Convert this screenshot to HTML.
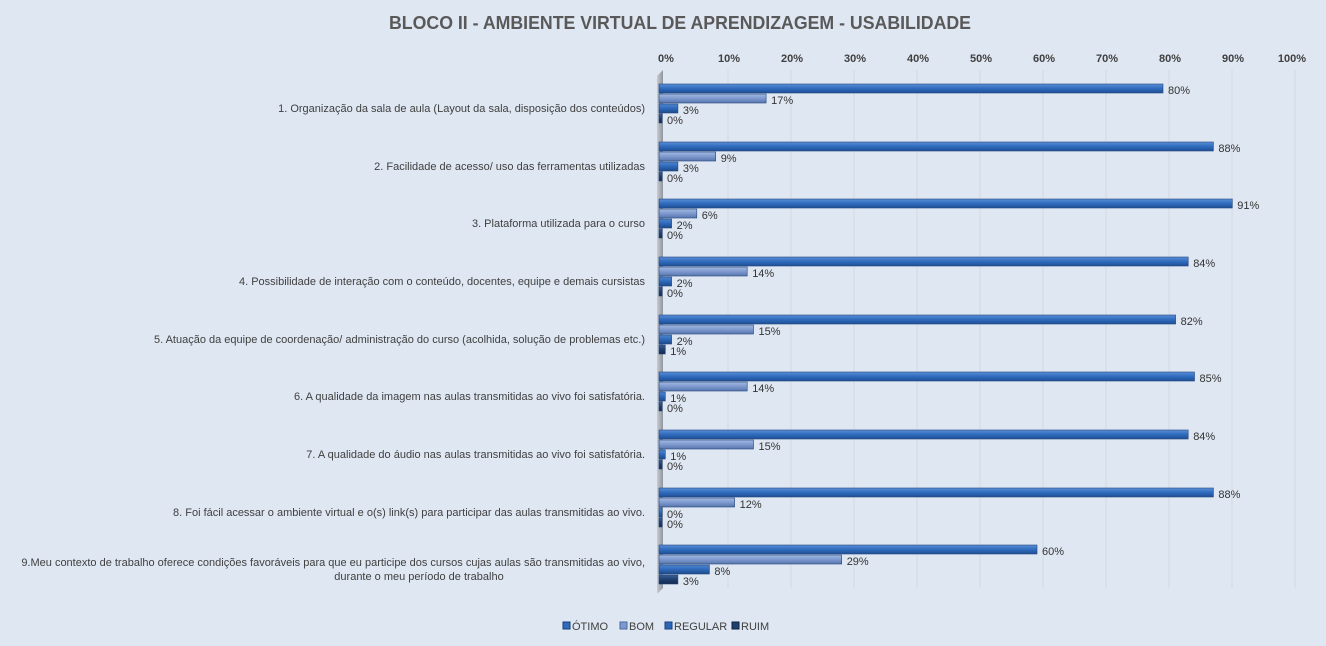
<!DOCTYPE html>
<html><head><meta charset="utf-8"><style>
body{margin:0;background:#dfe7f2;}
svg{display:block;font-family:"Liberation Sans",sans-serif;}
</style></head><body>
<svg width="1326" height="646" xmlns="http://www.w3.org/2000/svg">
<defs>
<linearGradient id="g1" x1="0" y1="0" x2="0" y2="1"><stop offset="0" stop-color="#5a8fd6"/><stop offset="0.5" stop-color="#2f6bbd"/><stop offset="1" stop-color="#1f4f95"/></linearGradient>
<linearGradient id="g2" x1="0" y1="0" x2="0" y2="1"><stop offset="0" stop-color="#a3b9e0"/><stop offset="0.5" stop-color="#7d99cf"/><stop offset="1" stop-color="#5876ad"/></linearGradient>
<linearGradient id="g3" x1="0" y1="0" x2="0" y2="1"><stop offset="0" stop-color="#4f86d0"/><stop offset="0.5" stop-color="#2d68b8"/><stop offset="1" stop-color="#1d4a8c"/></linearGradient>
<linearGradient id="g4" x1="0" y1="0" x2="0" y2="1"><stop offset="0" stop-color="#3a5f95"/><stop offset="0.5" stop-color="#1f3f6e"/><stop offset="1" stop-color="#122a4d"/></linearGradient>
<linearGradient id="wall" x1="0" y1="0" x2="1" y2="0"><stop offset="0" stop-color="#c8ccd2"/><stop offset="1" stop-color="#8f959c"/></linearGradient>
</defs>
<rect width="1326" height="646" fill="#dfe7f2"/>
<text x="680" y="29" text-anchor="middle" font-size="18" font-weight="bold" fill="#595959" textLength="582" lengthAdjust="spacingAndGlyphs">BLOCO II - AMBIENTE VIRTUAL DE APRENDIZAGEM - USABILIDADE</text>
<g font-size="11" fill="#404040" text-anchor="middle" font-weight="bold">
<text x="666" y="62">0%</text><text x="729" y="62">10%</text><text x="792" y="62">20%</text><text x="855" y="62">30%</text><text x="918" y="62">40%</text><text x="981" y="62">50%</text><text x="1044" y="62">60%</text><text x="1107" y="62">70%</text><text x="1170" y="62">80%</text><text x="1233" y="62">90%</text><text x="1292" y="62">100%</text>
</g>
<g stroke="#d8dce2" stroke-width="1.2">
<line x1="728" y1="70" x2="728" y2="588"/><line x1="791" y1="70" x2="791" y2="588"/><line x1="854" y1="70" x2="854" y2="588"/><line x1="917" y1="70" x2="917" y2="588"/><line x1="980" y1="70" x2="980" y2="588"/><line x1="1043" y1="70" x2="1043" y2="588"/><line x1="1106" y1="70" x2="1106" y2="588"/><line x1="1169" y1="70" x2="1169" y2="588"/><line x1="1232" y1="70" x2="1232" y2="588"/><line x1="1295" y1="70" x2="1295" y2="588"/>
</g>
<polygon points="657,76 663,70 663,588 657,594" fill="url(#wall)"/>
<g id="bars" font-size="11" fill="#333"></g>
<g font-size="11" fill="#404040" text-anchor="end">
<text x="645" y="112">1. Organização da sala de aula (Layout da sala, disposição dos conteúdos)</text>
<text x="645" y="170">2. Facilidade de acesso/ uso das ferramentas utilizadas</text>
<text x="645" y="227">3. Plataforma utilizada para o curso</text>
<text x="645" y="285">4. Possibilidade de interação com o conteúdo, docentes, equipe e demais cursistas</text>
<text x="645" y="343">5. Atuação da equipe de coordenação/ administração do curso (acolhida, solução de problemas etc.)</text>
<text x="645" y="400">6. A qualidade da imagem nas aulas transmitidas ao vivo foi satisfatória.</text>
<text x="645" y="458">7. A qualidade do áudio nas aulas transmitidas ao vivo foi satisfatória.</text>
<text x="645" y="516">8. Foi fácil acessar o ambiente virtual e o(s) link(s) para participar das aulas transmitidas ao vivo.</text>
<text x="645" y="566">9.Meu contexto de trabalho oferece condições favoráveis para que eu participe dos cursos cujas aulas são transmitidas ao vivo,</text>
<text x="419" y="580" text-anchor="middle">durante o meu período de trabalho</text>
</g>
<g font-size="11" fill="#404040">
<rect x="563" y="622" width="7" height="7" fill="#2f6bbd" stroke="#1a3f7a"/><text x="572" y="630">ÓTIMO</text>
<rect x="620" y="622" width="7" height="7" fill="#7d99cf" stroke="#4a67a0"/><text x="629" y="630">BOM</text>
<rect x="665" y="622" width="7" height="7" fill="#2d68b8" stroke="#1a3f7a"/><text x="674" y="630">REGULAR</text>
<rect x="732" y="622" width="7" height="7" fill="#1f3f6e" stroke="#0e2240"/><text x="741" y="630">RUIM</text>
</g>
</svg>
<script>
var d=[[80,17,3,0],[88,9,3,0],[91,6,2,0],[84,14,2,0],[82,15,2,1],[85,14,1,0],[84,15,1,0],[88,12,0,0],[60,29,8,3]];
var tops=[84,142,199,257,315,372,430,488,545];
var g=document.getElementById('bars'),s='';
d.forEach(function(r,i){r.forEach(function(v,j){var y=tops[i]+j*10,w=Math.max(v*6.3,3);
s+='<rect x="659" y="'+y+'" width="'+w+'" height="9" fill="url(#g'+(j+1)+')" stroke="#24477d" stroke-width="0.6"/>';
s+='<text x="'+(659+w+5)+'" y="'+(y+10)+'">'+v+'%</text>';});});
g.innerHTML=s;
</script>
</body></html>
